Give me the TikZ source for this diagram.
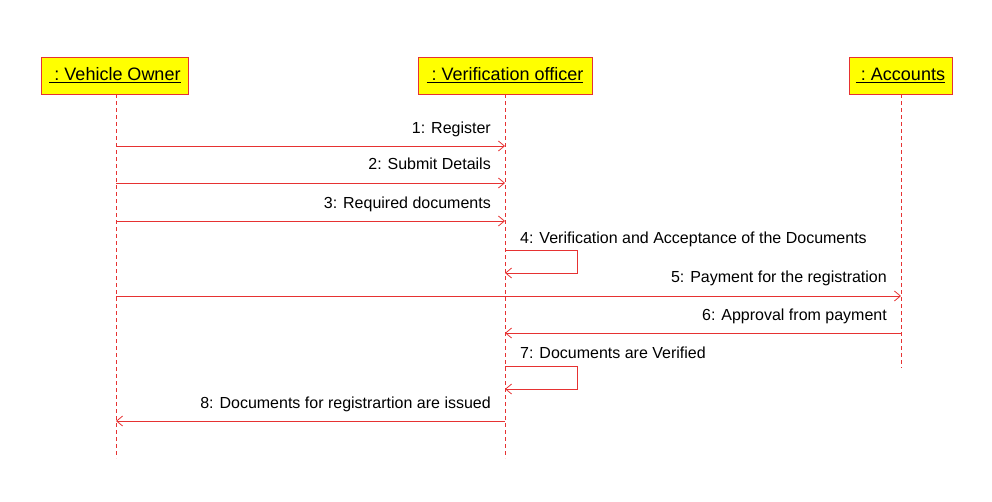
\documentclass[tikz,border=0pt]{standalone}
\usepackage{fontspec}
\setmainfont{Liberation Sans}
\usetikzlibrary{arrows.meta}
\definecolor{ured}{RGB}{230,50,50}
\definecolor{uyel}{RGB}{255,255,0}
\begin{document}
\begin{tikzpicture}[x=1pt,y=-1pt,
  obj/.style={draw=ured,fill=uyel,line width=0.8pt,minimum height=37pt,inner sep=0pt,font=\fontsize{18}{20}\selectfont},
  life/.style={draw=ured,dashed,dash pattern=on 4pt off 3pt,line width=0.7pt},
  msg/.style={draw=ured,line width=0.8pt,-{Straight Barb[length=6pt,width=10pt,line width=0.8pt]}},
  lbl/.style={font=\fontsize{16}{18}\selectfont,inner sep=0pt}]
\useasboundingbox (0,0) rectangle (992,501);
\node[obj,minimum width=147pt] (vo) at (115,75.5) {\raisebox{-2pt}{\underline{\ :\ Vehicle Owner}}};
\node[obj,minimum width=174pt] (vf) at (505,75.5) {\raisebox{-2pt}{\underline{\ :\ Verification officer}}};
\node[obj,minimum width=103pt] (ac) at (900.5,75.5) {\raisebox{-2pt}{\underline{\ :\ Accounts}}};
\coordinate (voE) at (116,458);
\coordinate (vfE) at (505,458);
\coordinate (acE) at (901,368);
\draw[life] (116,94) -- (voE);
\draw[life] (505,94) -- (vfE);
\draw[life] (901,94) -- (acE);
% messages
\coordinate (m1a) at (116,146); \coordinate (m1b) at (505,146);
\draw[msg] (m1a) -- (m1b);
\node[lbl,anchor=east] (t1) at (491,129) {1: Register};
\coordinate (m2a) at (116,183); \coordinate (m2b) at (505,183);
\draw[msg] (m2a) -- (m2b);
\node[lbl,anchor=east] (t2) at (491,164) {2: Submit Details};
\coordinate (m3a) at (116,221); \coordinate (m3b) at (505,221);
\draw[msg] (m3a) -- (m3b);
\node[lbl,anchor=east] (t3) at (491,204) {3: Required documents};
\coordinate (m4a) at (505,250); \coordinate (m4b) at (505,273);
\draw[msg] (m4a) -- (577,250) -- (577,273) -- (m4b);
\node[lbl,anchor=west] (t4) at (520,239) {4: Verification and Acceptance of the Documents};
\coordinate (m5a) at (116,296); \coordinate (m5b) at (901,296);
\draw[msg] (m5a) -- (m5b);
\node[lbl,anchor=east] (t5) at (887,278) {5: Payment for the registration};
\coordinate (m6a) at (901,333); \coordinate (m6b) at (505,333);
\draw[msg] (m6a) -- (m6b);
\node[lbl,anchor=east] (t6) at (887,316) {6: Approval from payment};
\coordinate (m7a) at (505,366); \coordinate (m7b) at (505,389);
\draw[msg] (m7a) -- (577,366) -- (577,389) -- (m7b);
\node[lbl,anchor=west] (t7) at (520,353) {7: Documents are Verified};
\coordinate (m8a) at (505,421); \coordinate (m8b) at (116,421);
\draw[msg] (m8a) -- (m8b);
\node[lbl,anchor=east] (t8) at (491,404) {8: Documents for registrartion are issued};
\end{tikzpicture}
\end{document}
